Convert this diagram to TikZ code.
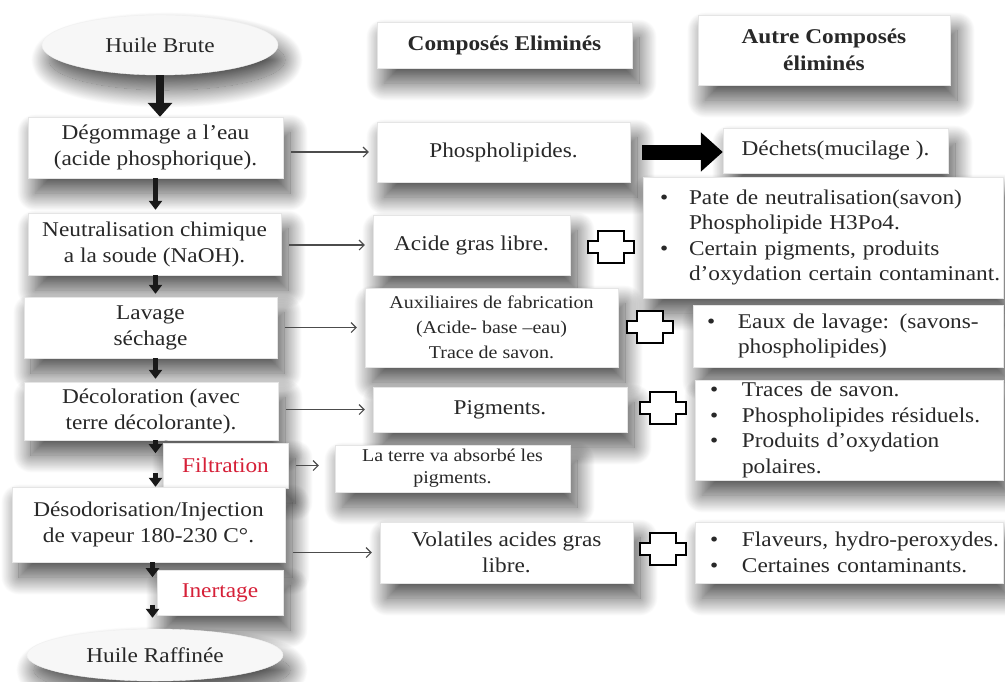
\documentclass[tikz,border=0pt]{standalone}
\usepackage{fontspec}
\setmainfont{Liberation Serif}[FakeStretch=1.11]
\usetikzlibrary{shapes.geometric}
\usetikzlibrary{arrows.meta}
\usetikzlibrary{shadows.blur}
\usetikzlibrary{calc}
\definecolor{txtgray}{RGB}{40,40,40}
\definecolor{stepred}{RGB}{214,32,56}
\newcommand{\blt}[1][30pt]{\makebox[#1][l]{\textbullet}}
\newcommand{\bltgap}[1][30pt]{\hspace*{#1}}
\tikzset{box/.style 2 args={rectangle, fill=white, draw=gray!20, line width=0.4pt,
    text=txtgray, align=center, inner sep=0pt, minimum width=#1pt, minimum height=#2pt,
    blur shadow={shadow xshift=7pt, shadow yshift=-15pt, shadow blur radius=18pt,
      shadow blur steps=40, shadow opacity=70}},
  oval/.style 2 args={box={#1}{#2}, ellipse, fill=gray!6, draw=gray!12},
  hdr/.style={font=\fontsize{21}{27}\selectfont\bfseries},
  smalltxt/.style={font=\fontsize{18}{25}\selectfont},
  listbox/.style n args={4}{box={#1}{#2}, align=left, inner xsep=#3pt, text width=#4pt,
    font=\fontsize{21}{25.5}\selectfont},
  redtxt/.style={text=stepred},
  bigarr/.style={-{Triangle[width=24pt,length=14pt]}, line width=8pt, black!90},
  downarr/.style={-{Triangle[width=13pt,length=9pt]}, line width=4.5pt, black!90},
  fatarr/.style={-{Triangle[width=38pt,length=22pt]}, line width=15pt, black},
  thinarr/.style={-{Straight Barb[length=5pt,width=10pt]}, line width=1.1pt, black!70,
    shorten <=8pt, shorten >=8pt},
  plusmark/.pic={\draw[line width=1.7pt, fill=white] (-23,-6) -- (-13,-6) -- (-13,-16) -- (13,-16)
    -- (13,-6) -- (23,-6) -- (23,6) -- (13,6) -- (13,16) -- (-13,16) -- (-13,6) -- (-23,6) -- cycle;}
}

\begin{document}
\begin{tikzpicture}[x=1pt, y=-1pt, font=\fontsize{21}{26}\selectfont]
\useasboundingbox (0,0) rectangle (1005,681);

% process steps
\node[oval={236}{60}] (brute) at (160,45) {Huile Brute};
\node[box={255}{61}] (degom) at (155.5,147.5) {Dégommage a l’eau\\(acide phosphorique).};
\node[box={253}{62}] (neutra) at (154.5,244) {Neutralisation chimique\\a la soude (NaOH).};
\node[box={253}{61}] (lavage) at (150.5,327.5) {Lavage\\séchage};
\node[box={254}{58}] (decolor) at (151,411) {Décoloration (avec\\terre décolorante).};
\node[box={125}{45}, redtxt] (filtr) at (225.5,465.5) {Filtration};
\node[box={273}{75}] (desodo) at (148.5,524.5) {Désodorisation/Injection\\de vapeur 180-230 C°.};
\node[box={126}{45}, redtxt] (inert) at (220,592.5) {Inertage};
\node[oval={256}{52}] (raffine) at (155,655) {Huile Raffinée};

% eliminated compounds
\node[box={255}{46}, hdr] (hdelim) at (504.5,45) {Composés Eliminés};
\node[box={253}{60}] (phospho) at (503.5,152) {Phospholipides.};
\node[box={197}{60}] (acide) at (471.5,245) {Acide gras libre.};
\node[box={253}{79}, smalltxt] (auxil) at (491.5,327.5) {Auxiliaires de fabrication\\(Acide- base –eau)\\Trace de savon.};
\node[box={254}{45}] (pigm) at (500,409.5) {Pigments.};
\node[box={235}{47}, smalltxt, font=\fontsize{18}{22}\selectfont] (terre) at (452.5,468.5) {La terre va absorbé les\\pigments.};
\node[box={253}{61}] (volat) at (506.5,552.5) {Volatiles acides gras\\libre.};

% other compounds
\node[box={252}{70}, hdr] (hautre) at (824,50) {Autre Composés\\éliminés};
\node[box={225}{45}] (dechets) at (835.5,150.5) {Déchets(mucilage ).};
\node[listbox={360}{121}{17}{326}] (pate) at (823,237.5)
  {\blt[29pt]\mbox{Pate de neutralisation(savon)}\\\bltgap[29pt]\mbox{Phospholipide H3Po4.}\\
   \blt[29pt]\mbox{Certain pigments, produits}\\\bltgap[29pt]\mbox{d’oxydation certain contaminant.}};
\node[listbox={310}{62}{14}{282}] (eaux) at (848,336)
  {\blt[31pt]\mbox{Eaux de lavage: (savons-}\\\bltgap[31pt]\mbox{phospholipides)}};
\node[listbox={308}{100}{15}{278}] (traces) at (849,430)
  {\blt[32pt]\mbox{Traces de savon.}\\\blt[32pt]\mbox{Phospholipides résiduels.}\\
   \blt[32pt]\mbox{Produits d’oxydation}\\\bltgap[32pt]\mbox{polaires.}};
\node[listbox={308}{61}{15}{278}] (flaveurs) at (849,552.5)
  {\blt[32pt]\mbox{Flaveurs, hydro-peroxydes.}\\\blt[32pt]\mbox{Certaines contaminants.}};

% plus marks
\pic (plusa) at (611,247) {plusmark};
\pic (plusb) at (650,327) {plusmark};
\pic (plusc) at (663,408) {plusmark};
\pic (plusd) at (663,549) {plusmark};

% main line
\draw[bigarr] (brute.south) -- (brute.south |- degom.north);
\foreach \a/\b in {degom/neutra, neutra/lavage, lavage/decolor}
  \draw[downarr, shorten >=3pt] (\a.south -| degom.south) -- (\b.north -| degom.south);
\coordinate (filtin) at ($(decolor.south -| degom.south)+(0,13)$);
\coordinate (filtout) at ($(desodo.north -| degom.south)+(0,-14)$);
\draw[downarr] (decolor.south -| degom.south) -- (filtin);
\draw[downarr] (filtout) -- (desodo.north -| degom.south);
\coordinate (inertin) at ($(desodo.south -| desodo.south)+(4,15)$);
\coordinate (inertout) at ($(raffine.north -| desodo.south)+(4,-24)$);
\coordinate (inertend) at ($(raffine.north -| desodo.south)+(4,-11)$);
\draw[downarr] ($(desodo.south)+(4,0)$) -- (inertin);
\draw[downarr] (inertout) -- (inertend);

%side arrows
\foreach \a/\b in {degom/phospho, neutra/acide, lavage/auxil, decolor/pigm, desodo/volat}
  \draw[thinarr] (\a.east |- \b.west) -- (\b.west);
\draw[thinarr, shorten >=16pt] (filtr.east) -- (filtr.east -| terre.west);
\draw[fatarr, shorten <=12pt] (phospho.east) -- (phospho.east -| dechets.west);

\end{tikzpicture}
\end{document}
